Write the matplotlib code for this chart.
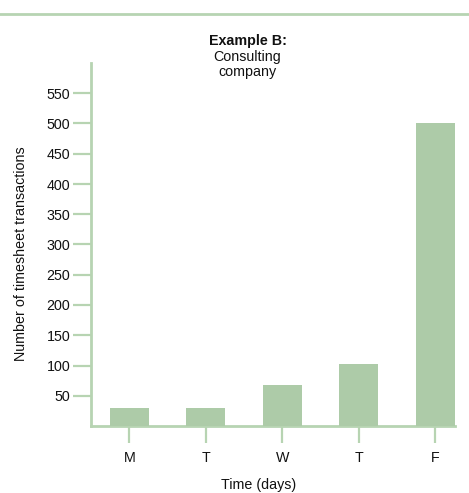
import matplotlib
matplotlib.use("Agg")
import matplotlib.pyplot as plt
from matplotlib.lines import Line2D

days = ["M", "T", "W", "T", "F"]
transactions = [30, 30, 67, 103, 500]
y_ticks = [50, 100, 150, 200, 250, 300, 350, 400, 450, 500, 550]

bar_color = "#adcba8"
axis_color = "#b7d4b2"
text_color = "#111111"

plt.rcParams["font.family"] = ["Liberation Sans", "DejaVu Sans"]
FS = 10.3

W, H = 469, 493
fig = plt.figure(figsize=(W / 100, H / 100), dpi=100)
ax = fig.add_axes([91 / W, 1 - 426 / H, (455 - 91) / W, (426 - 63) / H])

x = list(range(len(days)))
ax.bar(x, transactions, width=0.51, color=bar_color, zorder=1)

ax.set_xlim(-0.503, 4.255)
ax.set_ylim(0, 600)

for side in ("top", "right"):
    ax.spines[side].set_visible(False)
for side in ("left", "bottom"):
    ax.spines[side].set_color(axis_color)
    ax.spines[side].set_linewidth(2)
    ax.spines[side].set_zorder(0)

ax.set_yticks(y_ticks)
ax.set_xticks(x)
ax.set_xticklabels(days)
ax.tick_params(axis="y", length=13, width=1.6, color=axis_color, pad=2,
               labelsize=FS, labelcolor=text_color)
ax.tick_params(axis="x", length=12, width=1.6, color=axis_color, pad=6,
               labelsize=FS, labelcolor=text_color)

ax.set_xlabel("Time (days)", fontsize=FS, color=text_color)
ax.xaxis.set_label_coords((259 - 91) / (455 - 91), -(478 - 426) / (426 - 63))
ax.set_ylabel("Number of timesheet transactions", fontsize=FS, color=text_color)
ax.yaxis.set_label_coords(-(91 - 28) / (455 - 91), (426 - 254) / (426 - 63))

fig.text(248 / W, 1 - 41 / H, "Example B:", ha="center", va="center",
         fontsize=FS, fontweight="bold", color=text_color)
fig.text(247 / W, 1 - 57 / H, "Consulting", ha="center", va="center",
         fontsize=FS, color=text_color)
fig.text(247 / W, 1 - 72 / H, "company", ha="center", va="center",
         fontsize=FS, color=text_color)

# separator rule across the top of the figure
fig.add_artist(Line2D([0, 1], [1 - 14 / H, 1 - 14 / H], transform=fig.transFigure,
                      color=axis_color, linewidth=2))

fig.savefig("out.png", dpi=100)
